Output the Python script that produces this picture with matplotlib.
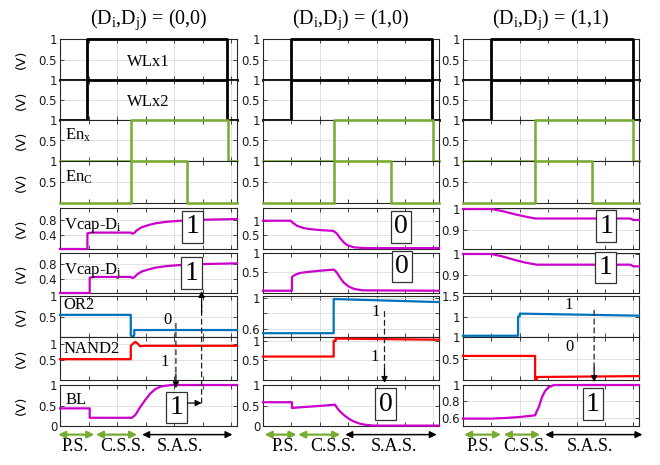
import numpy as np
import matplotlib
matplotlib.use('Agg')
import matplotlib.pyplot as plt
import matplotlib.transforms as mtransforms
from matplotlib.patches import ConnectionPatch

plt.rcParams['font.family'] = 'DejaVu Sans'
plt.rcParams['mathtext.fontset'] = 'custom'
plt.rcParams['mathtext.rm'] = 'Liberation Serif'
plt.rcParams['mathtext.it'] = 'Liberation Serif:italic'

SERIF = 'Liberation Serif'

# ---- datos (tiempo en unidades de la rejilla, 0..3.1) ----
titulos = ['(D$_\\mathrm{i}$,D$_\\mathrm{j}$) = (0,0)',
           '(D$_\\mathrm{i}$,D$_\\mathrm{j}$) = (1,0)',
           '(D$_\\mathrm{i}$,D$_\\mathrm{j}$) = (1,1)']

# flancos (subida, bajada) de las senales digitales
wl_flancos = [(0.48, 2.92), (0.49, 2.97), (0.49, 2.99)]
enx_flancos = [(1.24, 2.95), (1.245, 2.99), (1.26, 3.0)]
enc_flancos = [(1.24, 2.22), (1.245, 2.26), (1.26, 2.27)]

# (0,0)
vdi_t_00 = [0, 0.48, 0.48, 0.55, 1.24, 1.27, 1.3, 1.35, 1.43, 1.55, 1.67, 1.85, 2.07, 2.5, 3.1]
vdi_v_00 = [0, 0, 0.44, 0.46, 0.46, 0.43, 0.45, 0.53, 0.61, 0.67, 0.72, 0.76, 0.79, 0.82, 0.84]
vdj_t_00 = [0, 0.52, 0.52, 0.6, 1.24, 1.27, 1.3, 1.35, 1.43, 1.55, 1.67, 1.85, 2.07, 2.5, 3.1]
vdj_v_00 = [0, 0, 0.43, 0.45, 0.45, 0.42, 0.44, 0.52, 0.6, 0.66, 0.71, 0.75, 0.78, 0.81, 0.83]
or2_t_00 = [0, 1.24, 1.24, 1.27, 1.3, 1.3, 3.1]
or2_v_00 = [0.54, 0.54, 0.04, 0.0, 0.04, 0.17, 0.17]
nand_t_00 = [0, 1.24, 1.24, 1.28, 1.32, 1.36, 1.4, 1.5, 3.1]
nand_v_00 = [0.54, 0.54, 0.95, 1.02, 1.07, 1.02, 0.94, 0.95, 0.95]
bl_t_00 = [0, 0.52, 0.52, 1.26, 1.32, 1.4, 1.49, 1.58, 1.67, 1.76, 1.84, 1.95, 3.1]
bl_v_00 = [0.43, 0.43, 0.2, 0.2, 0.27, 0.45, 0.63, 0.79, 0.9, 0.96, 0.98, 1.0, 1.0]

# (1,0)
vdi_t_10 = [0, 0.49, 0.53, 0.6, 0.7, 0.8, 1.0, 1.24, 1.3, 1.36, 1.42, 1.48, 1.6, 1.8, 3.1]
vdi_v_10 = [1.0, 1.0, 0.92, 0.82, 0.75, 0.71, 0.67, 0.64, 0.55, 0.38, 0.24, 0.14, 0.06, 0.03, 0.03]
vdj_t_10 = [0, 0.51, 0.51, 0.56, 0.65, 0.8, 1.0, 1.25, 1.3, 1.36, 1.42, 1.5, 1.6, 1.75, 3.1]
vdj_v_10 = [0, 0, 0.36, 0.42, 0.47, 0.5, 0.53, 0.56, 0.48, 0.34, 0.22, 0.12, 0.05, 0.01, 0.0]
or2_t_10 = [0, 1.245, 1.245, 3.1]
or2_v_10 = [0.54, 0.54, 0.99, 0.95]
nand_t_10 = [0, 1.245, 1.245, 1.28, 1.28, 3.1]
nand_v_10 = [0.6, 0.6, 1.0, 1.0, 1.06, 1.03]
bl_t_10 = [0, 0.51, 0.51, 0.6, 0.8, 1.0, 1.27, 1.3, 1.36, 1.44, 1.52, 1.6, 1.7, 1.8, 1.95, 3.1]
bl_v_10 = [0.58, 0.58, 0.44, 0.45, 0.47, 0.49, 0.52, 0.45, 0.35, 0.25, 0.17, 0.11, 0.06, 0.03, 0.01, 0.01]

# (1,1)
vdi_t_11 = [0, 0.5, 0.7, 0.9, 1.1, 1.27, 2.95, 3.0, 3.1]
vdi_v_11 = [1.0, 1.0, 0.99, 0.976, 0.964, 0.955, 0.955, 0.948, 0.948]
vdj_t_11 = [0, 0.5, 0.7, 0.9, 1.1, 1.3, 2.95, 3.0, 3.1]
vdj_v_11 = [1.0, 1.0, 0.988, 0.972, 0.958, 0.948, 0.948, 0.94, 0.94]
or2_t_11 = [0, 0.97, 0.97, 1.0, 1.0, 3.1]
or2_v_11 = [0.53, 0.53, 1.0, 1.0, 1.07, 1.02]
nand_t_11 = [0, 1.27, 1.27, 1.3, 1.3, 3.1]
nand_v_11 = [0.56, 0.56, 0.01, 0.02, 0.07, 0.09]
bl_t_11 = [0, 0.5, 0.8, 1.0, 1.27, 1.3, 1.34, 1.39, 1.44, 1.5, 1.6, 3.1]
bl_v_11 = [0.59, 0.59, 0.6, 0.61, 0.63, 0.68, 0.74, 0.85, 0.92, 0.97, 1.0, 1.0]

# texto de los cuadros (Vcap-Di, Vcap-Dj, BL) y de OR2 / NAND2
cuadros = [('1', '1', '1'), ('0', '0', '0'), ('1', '1', '1')]
logica = [('0', '1'), ('1', '1'), ('1', '0')]

# limites y ticks en Y por fila y columna
ylims = [
    [(0, 1), (0, 1), (0, 1), (0, 1), (0, 1.15), (0, 1.12), (0, 1), (-0.1, 1.22), (0, 1)],
    [(0, 1), (0, 1), (0, 1), (0, 1), (0, 1.45), (-0.06, 1.0), (0.49, 1.03), (0, 1.1), (0, 1)],
    [(0, 1), (0, 1), (0, 1), (0, 1), (0.81, 1.005), (0.81, 1.005), (0.5, 1.5), (0, 1), (0.5, 1.0)],
]
yticks = [
    [[0.5, 1]] * 4 + [[0.4, 0.8], [0.4, 0.8], [0.5, 1], [0.5, 1], [0, 0.5, 1]],
    [[0.5, 1]] * 4 + [[0.5, 1], [0.5, 1], [0.6, 0.8, 1], [0.5, 1], [0, 0.5, 1]],
    [[0.5, 1]] * 4 + [[0.9, 1], [0.9, 1], [1, 1.5], [0.5, 1], [0.6, 0.8, 1]],
]

fases = ['P.S.', 'C.S.S.', 'S.A.S.']

VERDE = '#77AC30'
MAG = '#CC00CC'
AZUL = '#0072BD'
ROJO = '#FF0000'

W, H = 660, 465
fig = plt.figure(figsize=(6.6, 4.65), dpi=100)
col_x = [(60, 237), (263, 439), (463, 639)]
row_y = [(39, 80), (80, 120), (120, 161), (161, 203), (208, 249), (253, 293),
         (296, 337), (337, 380), (385, 426)]


def ejes(x0, x1, y0, y1):
    return fig.add_axes([x0 / W, 1 - y1 / H, (x1 - x0) / W, (y1 - y0) / H])


def escalon(flancos):
    r, f = flancos
    return [0, r, r, f, f, 3.1], [0, 0, 1, 1, 0, 0]


def estilo(ax, ylim, ticks, ocultar=False):
    ax.set_xlim(0, 3.1)
    ax.set_ylim(*ylim)
    ax.set_xticks([0, 1, 2, 3])
    ax.set_xticks([0.5, 1.5, 2.5], minor=True)
    ax.set_xticklabels([])
    ax.set_yticks(ticks)
    labs = ['%g' % v for v in ticks]
    if ocultar:
        labs[1] = ''
    ax.set_yticklabels(labs)
    ax.tick_params(which='both', direction='in', top=True, right=True, length=3,
                   width=0.6, labelsize=8.5, pad=2, color='#262626', labelcolor='#1a1a1a')
    ax.grid(True, color='#dddddd', lw=0.6)
    ax.set_axisbelow(True)
    for s in ax.spines.values():
        s.set_color('#262626')
        s.set_linewidth(0.8)


series = [
    [(vdi_t_00, vdi_v_00), (vdj_t_00, vdj_v_00), (or2_t_00, or2_v_00), (nand_t_00, nand_v_00), (bl_t_00, bl_v_00)],
    [(vdi_t_10, vdi_v_10), (vdj_t_10, vdj_v_10), (or2_t_10, or2_v_10), (nand_t_10, nand_v_10), (bl_t_10, bl_v_10)],
    [(vdi_t_11, vdi_v_11), (vdj_t_11, vdj_v_11), (or2_t_11, or2_v_11), (nand_t_11, nand_v_11), (bl_t_11, bl_v_11)],
]

# posiciones de cuadros (x, fraccion y) para Vcap-Di, Vcap-Dj, BL
cuadro_pos = [[(2.32, 0.54), (2.30, 0.5), (2.04, 0.45)],
              [(2.43, 0.54), (2.45, 0.66), (2.16, 0.53)],
              [(2.52, 0.56), (2.51, 0.64), (2.29, 0.53)]]
flecha_x = [2.03, 2.14, 2.31]
logica_pos = [[(1.89, 0.42), (1.84, 0.42)],
              [(1.99, 0.62), (1.96, 0.54)],
              [(1.87, 0.78), (1.88, 0.77)]]
fase_x = [[(-0.03, 0.6), (0.63, 1.35), (1.44, 3.02)],
          [(0.03, 0.59), (0.62, 1.36), (1.45, 3.06)],
          [(0.02, 0.67), (0.72, 1.36), (1.45, 3.16)]]
fase_lbl = [(0.26, 1.10, 2.10), (0.39, 1.24, 2.30), (0.30, 1.11, 2.24)]

for c in range(3):
    x0, x1 = col_x[c]
    axs = []
    for r in range(9):
        y0, y1 = row_y[r]
        ax = ejes(x0, x1, y0, y1)
        estilo(ax, ylims[c][r], yticks[c][r], ocultar=(c == 1 and r == 6))
        axs.append(ax)
        if c == 0:
            fig.text(21 / W, 1 - (y0 + y1) / 2 / H, '(V)', rotation=90, ha='center',
                     va='center', fontsize=9.5)

    # digitales
    for r in (0, 1):
        t, v = escalon(wl_flancos[c])
        axs[r].plot(t, v, color='black', lw=2, clip_on=False, zorder=3)
    t, v = escalon(enx_flancos[c])
    axs[2].plot(t, v, color=VERDE, lw=1.8, clip_on=False, zorder=3)
    t, v = escalon(enc_flancos[c])
    axs[3].plot(t, v, color=VERDE, lw=1.8, clip_on=False, zorder=3)

    colores = [MAG, MAG, AZUL, ROJO, MAG]
    for k, (t, v) in enumerate(series[c]):
        axs[4 + k].plot(t, v, color=colores[k], lw=1.6, clip_on=False, zorder=3)

    axs[0].set_title(titulos[c], fontsize=14.5, family=SERIF, pad=11)

    # cuadros con el dato
    caja = dict(boxstyle='square,pad=0.12', fc='white', ec='#333333', lw=0.9)
    for k, r in enumerate((4, 5, 8)):
        bx, by = cuadro_pos[c][k]
        axs[r].text(bx, by, cuadros[c][k], transform=mtransforms.blended_transform_factory(
            axs[r].transData, axs[r].transAxes), ha='center', va='center', fontsize=20,
            family=SERIF, bbox=caja, zorder=6, clip_on=False)

    if c == 0:
        etq = dict(fontsize=12, family=SERIF)
        axs[0].text(0.5, 0.45, 'WLx1', transform=axs[0].transAxes, ha='center', va='center', **etq)
        axs[1].text(0.5, 0.45, 'WLx2', transform=axs[1].transAxes, ha='center', va='center', **etq)
        axs[2].text(0.03, 0.83, 'En$_\\mathrm{x}$', transform=axs[2].transAxes, ha='left', va='top', **etq)
        axs[3].text(0.03, 0.83, 'En$_\\mathrm{C}$', transform=axs[3].transAxes, ha='left', va='top', **etq)
        axs[4].text(0.02, 0.8, 'Vcap-D$_\\mathrm{i}$', transform=axs[4].transAxes, ha='left', va='top', **etq)
        axs[5].text(0.02, 0.8, 'Vcap-D$_\\mathrm{j}$', transform=axs[5].transAxes, ha='left', va='top', **etq)
        axs[6].text(0.02, 0.97, 'OR2', transform=axs[6].transAxes, ha='left', va='top', **etq)
        axs[7].text(0.02, 0.9, 'NAND2', transform=axs[7].transAxes, ha='left', va='top', **etq)
        axs[8].text(0.03, 0.83, 'BL', transform=axs[8].transAxes, ha='left', va='top', **etq)

    # etiquetas logicas en OR2 y NAND2
    for k, r in enumerate((6, 7)):
        lx, ly = logica_pos[c][k]
        axs[r].text(lx, ly, logica[c][k], transform=mtransforms.blended_transform_factory(
            axs[r].transData, axs[r].transAxes), ha='center', va='center', fontsize=12,
            family=SERIF, zorder=5)

    # flecha punteada hacia BL
    trA = mtransforms.blended_transform_factory(axs[6].transData, axs[6].transAxes)
    trB = mtransforms.blended_transform_factory(axs[8].transData, axs[8].transAxes)
    yA = [0.33, 0.62, 0.65][c]
    yB = [0.92, 1.05, 1.07][c]
    yC = yB + 0.35
    fig.add_artist(ConnectionPatch((flecha_x[c], yA), (flecha_x[c], yC), trA, trB,
                                   color='#222222', lw=0.9, ls=(0, (4, 3)), zorder=10))
    fig.add_artist(ConnectionPatch((flecha_x[c], yC), (flecha_x[c], yB), trB, trB,
                                   arrowstyle='-|>', mutation_scale=9, color='black',
                                   lw=0.9, zorder=10))

    if c == 0:
        # flecha de BL hacia Vcap-Dj
        trD = mtransforms.blended_transform_factory(axs[5].transData, axs[5].transAxes)
        fig.add_artist(ConnectionPatch((2.24, 0.56), (2.48, 0.56), trB, trB,
                                       arrowstyle='-|>', mutation_scale=9, color='black',
                                       lw=0.9, zorder=10))
        fig.add_artist(ConnectionPatch((2.48, 0.56), (2.48, -0.3), trB, trD,
                                       color='#222222', lw=0.9, ls=(0, (4, 3)), zorder=10))
        fig.add_artist(ConnectionPatch((2.48, -0.5), (2.48, 0.05), trD, trD,
                                       arrowstyle='-|>', mutation_scale=9, color='black',
                                       lw=0.9, zorder=10))

    # fases abajo
    for k, (a, b) in enumerate(fase_x[c]):
        col = VERDE if k < 2 else 'black'
        fig.add_artist(ConnectionPatch((a, -0.21), (b, -0.21), trB, trB,
                                       arrowstyle='<|-|>', mutation_scale=10, color=col,
                                       lw=1.6 if k < 2 else 1.1, zorder=10))
        axs[8].text(fase_lbl[c][k], -0.62, fases[k], transform=trB, ha='center', va='baseline',
                    fontsize=13, family=SERIF, clip_on=False)

fig.savefig('out.png', dpi=100)
